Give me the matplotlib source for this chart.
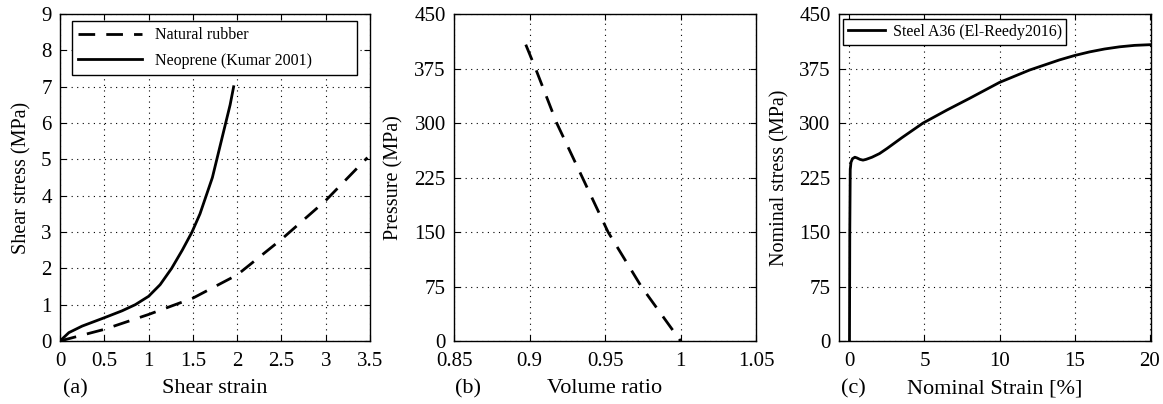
import numpy as np
import matplotlib.pyplot as plt

# (a) shear response
neo_x = [0, 0.1, 0.25, 0.5, 0.7, 0.85, 1.0, 1.13, 1.26, 1.38, 1.49, 1.58, 1.65, 1.72, 1.77, 1.82, 1.87, 1.92, 1.96]
neo_y = [0, 0.23, 0.41, 0.64, 0.83, 1.0, 1.23, 1.55, 2.0, 2.5, 3.0, 3.5, 4.0, 4.5, 5.0, 5.5, 6.0, 6.5, 7.0]
nat_x = [0, 0.5, 1.0, 1.5, 2.0, 2.5, 3.0, 3.47]
nat_y = [0, 0.32, 0.73, 1.18, 1.82, 2.8, 3.87, 5.05]

# (b) volumetric response
vol_x = [0.8975, 0.904, 0.918, 0.935, 0.952, 0.974, 1.0]
vol_p = [408, 375, 300, 225, 150, 75, 0]

# (c) steel A36
st_x = [0, 0.02, 0.05, 0.1, 0.2, 0.36, 0.5, 0.7, 0.9, 1.1, 1.5, 2.0, 2.5, 3.5, 4.9, 6.5, 8, 10, 12, 14, 15, 16, 17, 18, 19, 20.1]
st_y = [0, 150, 236, 246, 251, 253, 252, 250, 249, 250, 253, 258, 265, 280, 300, 318, 334, 356, 373, 387, 393, 398, 402, 405, 407, 408]

plt.rcParams['font.family'] = 'Liberation Serif'
plt.rcParams['font.size'] = 15

fig = plt.figure(figsize=(11.63, 4.04), dpi=100)
axa = fig.add_axes([0.0516, 0.156, 0.2666, 0.809])
axb = fig.add_axes([0.3904, 0.156, 0.2597, 0.809])
axc = fig.add_axes([0.7214, 0.156, 0.2683, 0.809])

for ax in (axa, axb, axc):
    ax.tick_params(direction='in', top=True, right=True, labelsize=15, length=4)
    ax.tick_params(axis='x', pad=8)
    ax.tick_params(axis='y', pad=6)
    ax.grid(True, linestyle=(0, (1, 4)), color='black', linewidth=0.8)
    ax.set_axisbelow(True)
    for s in ax.spines.values():
        s.set_linewidth(1.0)

axa.plot(nat_x, nat_y, 'k--', lw=2, dashes=(6, 4), label='Natural rubber')
axa.plot(neo_x, neo_y, 'k-', lw=2, label='Neoprene (Kumar 2001)')
axa.set_xlim(0, 3.5)
axa.set_ylim(0, 9)
axa.set_xticks([0, 0.5, 1, 1.5, 2, 2.5, 3, 3.5])
axa.set_xticklabels(['0', '0.5', '1', '1.5', '2', '2.5', '3', '3.5'])
axa.set_yticks(range(0, 10))
axa.set_xlabel('Shear strain', fontsize=16, labelpad=6)
axa.set_ylabel('Shear stress (MPa)', fontsize=14.5)
axa.yaxis.set_label_coords(-0.092, 0.5)
leg = axa.legend(loc='upper left', bbox_to_anchor=(0.039, 0.804, 0.919, 0.175), mode='expand',
                 borderaxespad=0, fancybox=False, edgecolor='black', framealpha=1,
                 fontsize=11.5, handlelength=4, labelspacing=0.6)
leg.get_frame().set_linewidth(1.0)
axa.text(0.05, -0.145, '(a)', transform=axa.transAxes, fontsize=16, ha='center', va='center')

axb.plot(vol_x, vol_p, 'k--', lw=2, dashes=(6, 4))
axb.set_xlim(0.85, 1.05)
axb.set_ylim(0, 450)
axb.set_xticks([0.85, 0.9, 0.95, 1, 1.05])
axb.set_xticklabels(['0.85', '0.9', '0.95', '1', '1.05'])
axb.set_yticks(range(0, 451, 75))
axb.set_xlabel('Volume ratio', fontsize=16, labelpad=6)
axb.set_ylabel('Pressure (MPa)', fontsize=14.5)
axb.yaxis.set_label_coords(-0.168, 0.5)
axb.text(0.046, -0.145, '(b)', transform=axb.transAxes, fontsize=16, ha='center', va='center')

axc.plot(st_x, st_y, 'k-', lw=2, label='Steel A36 (El-Reedy2016)')
axc.set_xlim(-0.7, 20.1)
axc.set_ylim(0, 450)
axc.set_xticks([0, 5, 10, 15, 20])
axc.set_yticks(range(0, 451, 75))
axc.set_xlabel('Nominal Strain [%]', fontsize=16, labelpad=6)
axc.set_ylabel('Nominal stress (MPa)', fontsize=14.5)
axc.yaxis.set_label_coords(-0.159, 0.5)
leg = axc.legend(loc='upper left', bbox_to_anchor=(0.013, 0.985), borderaxespad=0,
                 fancybox=False, edgecolor='black', framealpha=1, fontsize=11.5, handlelength=2.3,
                 borderpad=0.3, handletextpad=0.5)
leg.get_frame().set_linewidth(1.0)
axc.text(0.045, -0.145, '(c)', transform=axc.transAxes, fontsize=16, ha='center', va='center')

fig.savefig('out.png', dpi=100)
